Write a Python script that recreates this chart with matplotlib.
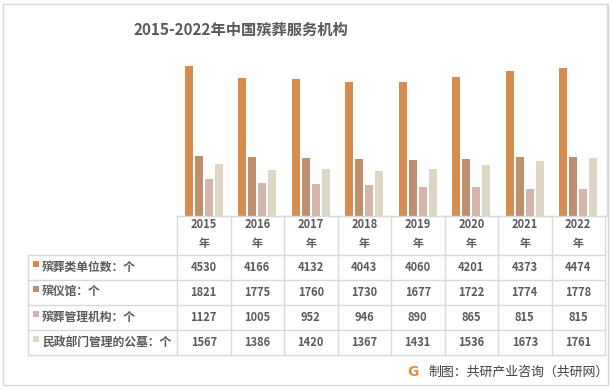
import numpy as np
import matplotlib.pyplot as plt
from matplotlib.lines import Line2D
from matplotlib.patches import Rectangle

plt.rcParams['font.family'] = ['Noto Sans CJK SC', 'DejaVu Sans']

# 数据
years = ['2015', '2016', '2017', '2018', '2019', '2020', '2021', '2022']
series_names = ['殡葬类单位数：个', '殡仪馆：个', '殡葬管理机构：个', '民政部门管理的公墓：个']
units_total = [4530, 4166, 4132, 4043, 4060, 4201, 4373, 4474]
funeral_homes = [1821, 1775, 1760, 1730, 1677, 1722, 1774, 1778]
mgmt_orgs = [1127, 1005, 952, 946, 890, 865, 815, 815]
cemeteries = [1567, 1386, 1420, 1367, 1431, 1536, 1673, 1761]
colors = ['#D58C4E', '#BD8F6F', '#D3B5AC', '#DDD6C5']

W, H = 612, 390
grid_c = '#D9D9D9'
txt_c = '#595959'


def fx(x):
    return x / W


def fy(y):
    return 1 - y / H


fig = plt.figure(figsize=(W / 100, H / 100), dpi=100)

# 外框
fig.add_artist(Rectangle((fx(3), fy(385)), fx(605), (385 - 4) / H, transform=fig.transFigure,
                         fill=False, edgecolor=grid_c, lw=1))

fig.text(fx(241), fy(30), '2015-2022年中国殡葬服务机构', ha='center', va='center',
         fontsize=11, fontweight='bold', color=txt_c)

# 柱状图
left, right, base, top = 177, 605, 216, 50.4
ax = fig.add_axes([fx(left), fy(base), (right - left) / W, (base - top) / H])
all_series = [units_total, funeral_homes, mgmt_orgs, cemeteries]
x = np.arange(len(years))
for i, vals in enumerate(all_series):
    ax.bar(x + (i - 1.5) * 0.185, vals, width=0.15, color=colors[i])
ax.set_xlim(-0.5, len(years) - 0.5)
ax.set_ylim(0, 5000)
for s in ['top', 'left', 'right']:
    ax.spines[s].set_visible(False)
ax.spines['bottom'].set_color(grid_c)
ax.set_xticks([])
ax.set_yticks([])
ax.patch.set_alpha(0)

# 右侧竖线
fig.add_artist(Line2D([fx(607), fx(607)], [fy(4), fy(base)], color=grid_c, lw=1))

# 数据表
col_w = (right - left) / len(years)
rows_y = [255, 280, 305, 330, 355]
label_x = 28


def hline(y, x0, x1):
    fig.add_artist(Line2D([fx(x0), fx(x1)], [fy(y), fy(y)], color=grid_c, lw=1))


def vline(x0, y0, y1):
    fig.add_artist(Line2D([fx(x0), fx(x0)], [fy(y0), fy(y1)], color=grid_c, lw=1))


hline(base, left, right)
for y in rows_y:
    hline(y, label_x, right)
vline(label_x, rows_y[0], rows_y[-1])
for j in range(len(years) + 1):
    vline(left + j * col_w, base, rows_y[-1])

for j, yr in enumerate(years):
    cx = left + (j + 0.5) * col_w
    fig.text(fx(cx), fy(225), yr, ha='center', va='center', fontsize=8,
             fontweight='bold', color=txt_c)
    fig.text(fx(cx), fy(243), '年', ha='center', va='center', fontsize=8,
             fontweight='bold', color=txt_c)

for i, (name, vals) in enumerate(zip(series_names, all_series)):
    cy = (rows_y[i] + rows_y[i + 1]) / 2
    fig.add_artist(Rectangle((fx(33), fy(cy - 1)), 6 / W, 6 / H, transform=fig.transFigure,
                             color=colors[i], lw=0))
    fig.text(fx(42), fy(cy), name, ha='left', va='center', fontsize=8.5,
             fontweight='bold', color=txt_c)
    for j, v in enumerate(vals):
        cx = left + (j + 0.5) * col_w
        fig.text(fx(cx), fy(cy), str(v), ha='center', va='center', fontsize=8,
                 fontweight='bold', color=txt_c)

# 来源
fig.text(fx(413), fy(372), 'G', ha='center', va='center', fontsize=10,
         fontweight='heavy', color='#F08A3C', family=['DejaVu Sans'])
fig.text(fx(428), fy(372), '制图：共研产业咨询（共研网）', ha='left', va='center',
         fontsize=9.3, color='#404040')

fig.savefig('out.png', dpi=100)
